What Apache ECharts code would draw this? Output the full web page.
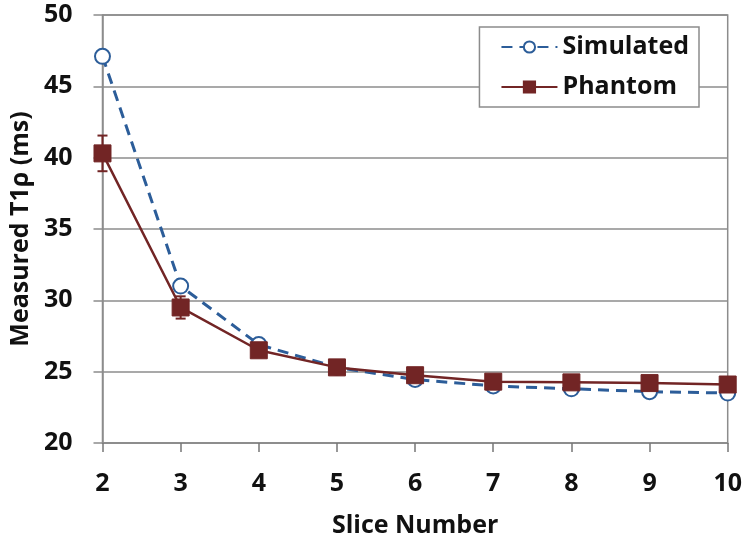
<!DOCTYPE html>
<html>
<head>
<meta charset="utf-8">
<script src="https://cdn.jsdelivr.net/npm/echarts@6/dist/echarts.min.js"></script>
<style>
html,body{margin:0;padding:0;background:#fff;}
#chart{width:750px;height:543px;}
</style>
</head>
<body>
<div id="chart"></div>
<script>
const categories = ['2', '3', '4', '5', '6', '7', '8', '9', '10'];
const simulated = [47.1, 31.0, 26.9, 25.3, 24.45, 24.0, 23.8, 23.6, 23.5];
const phantom = [40.3, 29.5, 26.5, 25.3, 24.75, 24.3, 24.25, 24.2, 24.1];
const phantomErr = [1.25, 0.78, 0.4, 0.3, 0.3, 0.3, 0.3, 0.3, 0.3];
const yTicks = { min: 20, max: 50, interval: 5 };

const FONT = '"Open Sans", sans-serif';
const SIM_COLOR = '#2c5d99';
const PH_COLOR = '#722525';
const GRID_COLOR = '#8c8c8c';

const chart = echarts.init(document.getElementById('chart'), null, { renderer: 'canvas' });

const errData = phantom.map((v, i) => [i, v - phantomErr[i], v + phantomErr[i]]);

chart.setOption({
  animation: false,
  backgroundColor: '#ffffff',
  grid: {
    left: 101.7, right: 22.3, top: 15, bottom: 100,
    show: true, borderColor: GRID_COLOR, borderWidth: 1.5, backgroundColor: 'transparent'
  },
  legend: {
    right: 51, top: 27,
    orient: 'vertical',
    backgroundColor: '#ffffff',
    borderColor: '#8c8c8c',
    borderWidth: 1.5,
    padding: [7, 10, 7, 21],
    itemGap: 14,
    itemWidth: 56,
    itemHeight: 14,
    textStyle: { fontFamily: FONT, fontWeight: 'bold', fontSize: 25, color: '#111', lineHeight: 26, padding: [0, 0, 0, 0] },
    data: ['Simulated', 'Phantom']
  },
  xAxis: {
    type: 'category',
    data: categories,
    boundaryGap: false,
    name: 'Slice Number',
    nameLocation: 'middle',
    nameGap: 70,
    nameTextStyle: { fontFamily: FONT, fontWeight: 'bold', fontSize: 25, color: '#111' },
    axisLine: { show: true, lineStyle: { color: GRID_COLOR, width: 1.5 } },
    axisTick: { show: true, inside: false, length: 9, lineStyle: { color: '#777', width: 1.5 } },
    axisLabel: { margin: 28, fontFamily: FONT, fontWeight: 'bold', fontSize: 25, color: '#111' },
    splitLine: { show: false }
  },
  yAxis: {
    type: 'value',
    min: yTicks.min, max: yTicks.max, interval: yTicks.interval,
    name: 'Measured T1ρ (ms)',
    nameLocation: 'middle',
    nameGap: 66,
    nameTextStyle: { fontFamily: FONT, fontWeight: 'bold', fontSize: 25, color: '#111' },
    axisLine: { show: true, lineStyle: { color: GRID_COLOR, width: 1.5 } },
    axisTick: { show: true, inside: false, length: 9, lineStyle: { color: GRID_COLOR, width: 1.5 } },
    axisLabel: { margin: 30, fontFamily: FONT, fontWeight: 'bold', fontSize: 25, color: '#111' },
    splitLine: { show: true, lineStyle: { color: GRID_COLOR, width: 1.5 } }
  },
  series: [
    {
      name: 'Simulated',
      type: 'line',
      data: simulated,
      z: 3,
      symbol: 'emptyCircle',
      symbolSize: 15,
      showSymbol: true,
      lineStyle: { color: SIM_COLOR, width: 3, type: [11, 7] },
      itemStyle: { color: SIM_COLOR, borderColor: SIM_COLOR, borderWidth: 2.5 }
    },
    {
      name: 'Phantom error',
      type: 'custom',
      z: 4,
      data: errData,
      itemStyle: { color: PH_COLOR },
      renderItem: function (params, api) {
        const x = api.value(0);
        const lo = api.coord([x, api.value(1)]);
        const hi = api.coord([x, api.value(2)]);
        const hw = 5;
        const style = { stroke: PH_COLOR, lineWidth: 2 };
        return {
          type: 'group',
          children: [
            { type: 'line', shape: { x1: lo[0], y1: lo[1], x2: hi[0], y2: hi[1] }, style: style },
            { type: 'line', shape: { x1: lo[0] - hw, y1: lo[1], x2: lo[0] + hw, y2: lo[1] }, style: style },
            { type: 'line', shape: { x1: hi[0] - hw, y1: hi[1], x2: hi[0] + hw, y2: hi[1] }, style: style }
          ]
        };
      },
      tooltip: { show: false }
    },
    {
      name: 'Phantom',
      type: 'line',
      data: phantom,
      z: 5,
      symbol: 'rect',
      symbolSize: 17,
      showSymbol: true,
      lineStyle: { color: PH_COLOR, width: 2.5 },
      itemStyle: { color: PH_COLOR, borderColor: PH_COLOR, borderWidth: 1 }
    }
  ]
});
</script>
</body>
</html>
